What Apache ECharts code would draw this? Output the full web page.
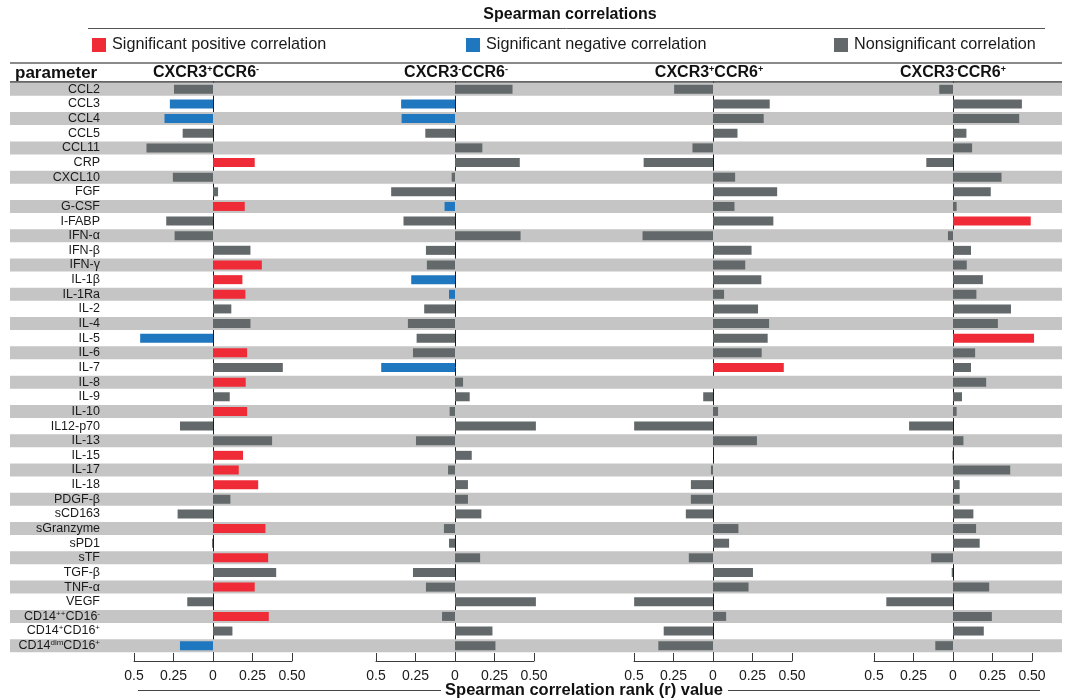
<!DOCTYPE html>
<html>
<head>
<meta charset="utf-8">
<script src="https://cdn.jsdelivr.net/npm/echarts@6/dist/echarts.min.js"></script>
<style>html,body{margin:0;padding:0;background:#fff}#c{width:1068px;height:700px}</style>
</head>
<body>
<div id="c"></div>
<script>
// ---------- DATA ----------
const categories = ['CCL2','CCL3','CCL4','CCL5','CCL11','CRP','CXCL10','FGF','G-CSF','I-FABP','IFN-α','IFN-β','IFN-γ','IL-1β','IL-1Ra','IL-2','IL-4','IL-5','IL-6','IL-7','IL-8','IL-9','IL-10','IL12-p70','IL-13','IL-15','IL-17','IL-18','PDGF-β','sCD163','sGranzyme','sPD1','sTF','TGF-β','TNF-α','VEGF','CD14++CD16-','CD14+CD16+','CD14dimCD16+'];

const panelTitles = [['CXCR3','+','CCR6','-'],['CXCR3','-','CCR6','-'],['CXCR3','+','CCR6','+'],['CXCR3','-','CCR6','+']];

const r1 = [-0.247,-0.273,-0.307,-0.192,-0.421,0.264,-0.254,0.032,0.201,-0.296,-0.243,0.237,0.309,0.186,0.205,0.116,0.237,-0.461,0.216,0.442,0.207,0.106,0.216,-0.209,0.374,0.190,0.163,0.286,0.110,-0.224,0.332,-0.006,0.349,0.400,0.264,-0.163,0.353,0.123,-0.209];
const s1 = [0,-1,-1,0,0,1,0,0,1,0,0,0,1,1,1,0,0,-1,1,0,1,0,1,0,0,1,1,1,0,0,1,0,1,0,1,0,1,0,-1];

const r2 = [0.364,-0.341,-0.338,-0.188,0.173,0.410,-0.021,-0.404,-0.066,-0.326,0.415,-0.184,-0.178,-0.277,-0.038,-0.195,-0.298,-0.243,-0.266,-0.467,0.051,0.093,-0.034,0.512,-0.247,0.106,-0.044,0.082,0.082,0.167,-0.070,-0.038,0.159,-0.266,-0.184,0.512,-0.082,0.237,0.256];
const s2 = [0,-1,-1,0,0,0,0,0,-1,0,0,0,0,-1,-1,0,0,0,0,-1,0,0,0,0,0,0,0,0,0,0,0,0,0,0,0,0,0,0,0];

const r3 = [-0.246,0.359,0.321,0.155,-0.130,-0.439,0.140,0.406,0.136,0.382,-0.446,0.244,0.204,0.306,0.070,0.285,0.355,0.346,0.308,0.448,0,-0.062,0.032,-0.499,0.278,0,-0.013,-0.140,-0.140,-0.172,0.161,0.102,-0.153,0.253,0.225,-0.499,0.083,-0.312,-0.346];
const s3 = [0,0,0,0,0,0,0,0,0,0,0,0,0,0,0,0,0,0,0,1,0,0,0,0,0,0,0,0,0,0,0,0,0,0,0,0,0,0,0];

const r4 = [-0.087,0.436,0.419,0.085,0.121,-0.169,0.307,0.239,0.023,0.492,-0.032,0.114,0.087,0.189,0.148,0.367,0.284,0.513,0.140,0.114,0.210,0.057,0.023,-0.278,0.066,-0.004,0.362,0.042,0.042,0.129,0.146,0.169,-0.138,-0.008,0.229,-0.422,0.246,0.195,-0.112];
const s4 = [0,0,0,0,0,0,0,0,0,1,0,0,0,0,0,0,0,1,0,0,0,0,0,0,0,0,0,0,0,0,0,0,0,0,0,0,0,0,0];

const tickValues = [-0.5,-0.25,0,0.25,0.5];
const tickLabels = ['0.5','0.25','0','0.25','0.50'];

const seriesNames = ['Significant positive correlation','Significant negative correlation','Nonsignificant correlation'];
const seriesColors = ['#ee2b36','#1f77bf','#63686b'];

// ---------- LAYOUT ----------
const FONT = '"Liberation Sans", Arial, sans-serif';
const TOP = 82, BOTTOM = 47;
const panelLeft = [134, 376, 634, 874];
const panelWidth = 158;
const headerX = [206, 456, 709, 953];

const grids = [
  {left: 10, right: 6, top: TOP, bottom: BOTTOM},   // stripes
  {left: 101, width: 1, top: TOP, bottom: BOTTOM}    // labels
];
const xAxes = [
  {gridIndex: 0, type: 'value', min: 0, max: 1, show: false},
  {gridIndex: 1, type: 'value', min: 0, max: 1, show: false}
];
const yAxes = [
  {gridIndex: 0, type: 'category', data: categories, inverse: true, show: false},
  {gridIndex: 1, type: 'category', data: categories, inverse: true,
   axisLine: {show: false}, axisTick: {show: false},
   axisLabel: {interval: 0, margin: 1, fontFamily: FONT, fontSize: 12.5, color: '#1a1a1a',
     formatter: function (v) {
       if (v === 'CD14++CD16-') return 'CD14{s|++}CD16{s|-}';
       if (v === 'CD14+CD16+') return 'CD14{s|+}CD16{s|+}';
       if (v === 'CD14dimCD16+') return 'CD14{s|dim}CD16{s|+}';
       return v;
     },
     rich: {s: {fontSize: 8, fontFamily: FONT, color: '#1a1a1a', verticalAlign: 'top', padding: [0,0,6,0]}}
   }}
];
const series = [{
  type: 'bar', xAxisIndex: 0, yAxisIndex: 0, silent: true, barWidth: 13, z: 0,
  itemStyle: {color: '#c4c5c4'},
  data: categories.map((c, i) => (i % 2 === 0 ? 1 : '-'))
}];

const panels = [[r1, s1], [r2, s2], [r3, s3], [r4, s4]];
panels.forEach(function (p, k) {
  const gi = k + 2;
  grids.push({left: panelLeft[k], width: panelWidth, top: TOP, bottom: BOTTOM});
  xAxes.push({
    gridIndex: gi, type: 'value', min: -0.5, max: 0.5, interval: 0.25, position: 'bottom', offset: 8,
    splitLine: {show: false},
    axisLine: {show: true, lineStyle: {color: '#3a3a3a', width: 1}},
    axisTick: {show: true, inside: true, length: 8, lineStyle: {color: '#3a3a3a', width: 1}},
    axisLabel: {margin: 8, fontFamily: FONT, fontSize: 14, color: '#1a1a1a',
      formatter: function (v) { const i = tickValues.indexOf(Math.round(v * 100) / 100); return i >= 0 ? tickLabels[i] : ''; }}
  });
  yAxes.push({
    gridIndex: gi, type: 'category', data: categories, inverse: true,
    axisLine: {show: true, onZero: true, lineStyle: {color: '#1a1a1a', width: 1}},
    axisTick: {show: false}, axisLabel: {show: false}, splitLine: {show: false}
  });
  const vals = p[0], sig = p[1];
  [1, -1, 0].forEach(function (code, j) {
    series.push({
      name: seriesNames[j], type: 'bar', xAxisIndex: gi, yAxisIndex: gi,
      barWidth: 9, barGap: '-100%', clip: false, z: 3, silent: true,
      itemStyle: {color: seriesColors[j]},
      data: vals.map((v, i) => (sig[i] === code ? v : '-'))
    });
  });
});

const legendBase = {orient: 'horizontal', top: 32, itemWidth: 14, itemHeight: 14, icon: 'rect', selectedMode: false, itemGap: 6,
  textStyle: {fontFamily: FONT, fontSize: 16.2, color: '#1a1a1a', padding: [0,0,0,1]}};
const legends = [
  Object.assign({}, legendBase, {left: 87, data: [seriesNames[0]]}),
  Object.assign({}, legendBase, {left: 461, data: [seriesNames[1]]}),
  Object.assign({}, legendBase, {left: 829, data: [seriesNames[2]]})
];

const headerRich = {
  b: {fontFamily: FONT, fontWeight: 'bold', fontSize: 16, fill: '#111', color: '#111'},
  s: {fontFamily: FONT, fontWeight: 'bold', fontSize: 9, fill: '#111', color: '#111', verticalAlign: 'top', padding: [0,0,7,0]}
};
const graphics = [
  {type: 'text', x: 570, y: 15, style: {text: 'Spearman correlations', font: 'bold 16px ' + FONT, fill: '#111', textAlign: 'center', textVerticalAlign: 'middle'}},
  {type: 'line', shape: {x1: 88, y1: 28.5, x2: 1045, y2: 28.5}, style: {stroke: '#555', lineWidth: 1}},
  {type: 'line', shape: {x1: 10, y1: 63, x2: 1062, y2: 63}, style: {stroke: '#8a8a8a', lineWidth: 2}},
  {type: 'line', shape: {x1: 10, y1: 82, x2: 1062, y2: 82}, style: {stroke: '#333', lineWidth: 1.5}},
  {type: 'text', x: 15, y: 73, style: {text: 'parameter', font: 'bold 17px ' + FONT, fill: '#111', textAlign: 'left', textVerticalAlign: 'middle'}},
  {type: 'text', x: 584, y: 690, style: {text: 'Spearman correlation rank (r) value', font: 'bold 16.5px ' + FONT, fill: '#111', textAlign: 'center', textVerticalAlign: 'middle'}},
  {type: 'line', shape: {x1: 138, y1: 690.5, x2: 441, y2: 690.5}, style: {stroke: '#444', lineWidth: 1}},
  {type: 'line', shape: {x1: 728, y1: 690.5, x2: 1040, y2: 690.5}, style: {stroke: '#444', lineWidth: 1}}
];
panelTitles.forEach(function (t, k) {
  graphics.push({type: 'text', x: headerX[k], y: 73,
    style: {text: '{b|' + t[0] + '}{s|' + t[1] + '}{b|' + t[2] + '}{s|' + t[3] + '}', rich: headerRich, textAlign: 'center', textVerticalAlign: 'middle'}});
});

const chart = echarts.init(document.getElementById('c'), null, {renderer: 'canvas'});
chart.setOption({
  animation: false,
  backgroundColor: '#ffffff',
  grid: grids, xAxis: xAxes, yAxis: yAxes, series: series,
  legend: legends, graphic: graphics
});
</script>
</body>
</html>
